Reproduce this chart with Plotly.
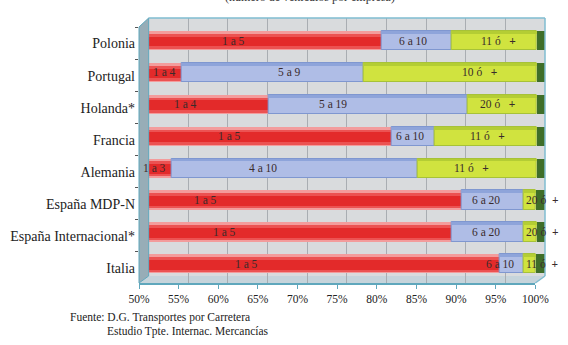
import plotly.graph_objects as go

# Fleet-size distribution of road haulage firms by country (% of firms)
categories = ["Polonia", "Portugal", "Holanda*", "Francia", "Alemania",
              "España MDP-N", "España Internacional*", "Italia"]
small = [79.4, 54.1, 65.1, 80.6, 52.9, 89.5, 88.2, 94.3]
medium = [8.8, 23.0, 25.1, 5.5, 31.0, 7.8, 9.1, 3.0]
large = [10.7, 21.8, 8.7, 12.8, 15.0, 1.5, 1.6, 1.5]
other = [1.1, 1.1, 1.1, 1.1, 1.1, 1.2, 1.1, 1.2]

small_labels = ["1 a 5", "1 a 4", "1 a 4", "1 a 5", "1 a 3", "1 a 5", "1 a 5", "1 a 5"]
medium_labels = ["6 a 10", "5 a 9", "5 a 19", "6 a 10", "4 a 10", "6 a 20", "6 a 20", "6 a 10"]
large_labels = ["11 ó +", "10 ó +", "20 ó +", "11 ó +", "11 ó +", "20 ó +", "20 ó +", "11 ó +"]

# where each segment label sits along the % axis
small_label_x = [60.7, 52.0, 54.6, 60.2, 50.7, 57.2, 59.6, 62.4]
medium_label_x = [83.3, 67.8, 73.3, 83.0, 64.4, 92.6, 92.6, 94.3]
large_label_x = [94.1, 91.7, 94.0, 92.7, 90.7, 97.4, 97.4, 97.4]

x_ticks = [50, 55, 60, 65, 70, 75, 80, 85, 90, 95, 100]
x_tick_text = [f"{v}%" for v in x_ticks]

source_lines = ["Fuente: D.G. Transportes por Carretera",
                "Estudio Tpte. Internac. Mercancías"]

W, H = 568, 345
L, R, T, B = 139, 9, 18, 58
PW, PH = W - L - R, H - T - B


def px(x):
    return (x - L) / PW


def py(y):
    return (H - B - y) / PH


SERIF = "Liberation Serif"
BAR_W = 0.6

base_medium = small
base_large = [a + b for a, b in zip(small, medium)]
base_other = [a + b + c for a, b, c in zip(small, medium, large)]

fig = go.Figure()


def add_bar(x, base, color, width=BAR_W, offset=None, line=None):
    fig.add_trace(go.Bar(
        y=categories, x=x, base=base, orientation="h", width=width,
        offset=offset, marker=dict(color=color, line=line or dict(width=0)),
        hoverinfo="skip", showlegend=False,
    ))


# red band with a shaded, rounded look
add_bar(small, [0] * 8, "#f39c9c")
add_bar(small, [0] * 8, "#ec5252", width=0.47, offset=-0.21)
add_bar(small, [0] * 8, "#e32a2a", width=0.3, offset=-0.12)

# blue band
add_bar(medium, base_medium, "#afbde6", line=dict(color="#7f97d0", width=1))
add_bar(medium, base_medium, "#8ea4da", width=0.09, offset=-BAR_W / 2)

# yellow-green band
add_bar(large, base_large, "#d0e33f", line=dict(color="#a7c238", width=1))
add_bar(large, base_large, "#b4cd34", width=0.09, offset=-BAR_W / 2)

# dark green remainder
add_bar(other, base_other, "#3f6e29")

# invisible trace that carries the front axis and the category labels
fig.add_trace(go.Scatter(
    x=[50] * len(categories), y=categories, xaxis="x2", yaxis="y2",
    mode="markers", marker=dict(opacity=0), hoverinfo="skip", showlegend=False,
))

annotations = []
label_font = dict(family=SERIF, size=11.5, color="#3a2b2b")
for i, cat in enumerate(categories):
    annotations.append(dict(x=small_label_x[i], y=cat, xref="x", yref="y",
                            text=small_labels[i], showarrow=False, font=label_font))
    annotations.append(dict(x=medium_label_x[i], y=cat, xref="x", yref="y",
                            text=medium_labels[i], showarrow=False, font=label_font))
    narrow = large[i] < 3
    gap = "\u00a0\u00a0" if narrow else "\u00a0\u00a0\u00a0"
    txt = large_labels[i].replace(" +", gap + "<b>+</b>")
    annotations.append(dict(x=large_label_x[i], y=cat, xref="x", yref="y",
                            xanchor="left" if narrow else "center",
                            text=txt, showarrow=False, font=label_font))

annotations.append(dict(x=px(66), y=py(317), xref="paper", yref="paper",
                        xanchor="left", yanchor="middle", showarrow=False,
                        text=source_lines[0],
                        font=dict(family=SERIF, size=11.5, color="#222")))
annotations.append(dict(x=px(104), y=py(331), xref="paper", yref="paper",
                        xanchor="left", yanchor="middle", showarrow=False,
                        text=source_lines[1],
                        font=dict(family=SERIF, size=11.5, color="#222")))
annotations.append(dict(x=px(316), y=py(-3), xref="paper", yref="paper",
                        xanchor="center", yanchor="middle", showarrow=False,
                        text="(número de vehículos por empresa)",
                        font=dict(family=SERIF, size=12, color="#333")))

wall_edge = "#7fbcd0"
shapes = [
    # back wall
    dict(type="rect", xref="paper", yref="paper", layer="below",
         x0=px(149), x1=px(559), y0=py(276), y1=py(18),
         fillcolor="#d9dbdd", line=dict(width=0)),
    # floor
    dict(type="path", xref="paper", yref="paper", layer="below",
         path=f"M {px(149)} {py(276)} L {px(559)} {py(276)} L {px(549)} {py(283)} "
              f"L {px(139)} {py(283)} Z",
         fillcolor="#c6d4db", line=dict(width=0)),
    # left side wall
    dict(type="path", xref="paper", yref="paper", layer="above",
         path=f"M {px(139)} {py(27)} L {px(149)} {py(18)} L {px(149)} {py(276)} "
              f"L {px(139)} {py(283)} Z",
         fillcolor="#97adb7", line=dict(color="#5fa7bc", width=1)),
    # back wall outline
    dict(type="line", xref="paper", yref="paper", layer="above",
         x0=px(149), x1=px(559), y0=py(18), y1=py(18),
         line=dict(color=wall_edge, width=1.5)),
    dict(type="line", xref="paper", yref="paper", layer="above",
         x0=px(559), x1=px(559), y0=py(18), y1=py(276),
         line=dict(color=wall_edge, width=1.5)),
    dict(type="line", xref="paper", yref="paper", layer="above",
         x0=px(559), x1=px(549), y0=py(276), y1=py(283),
         line=dict(color=wall_edge, width=1.5)),
]

y_range = [7.60, -0.705]

fig.update_layout(
    width=W, height=H,
    margin=dict(l=L, r=R, t=T, b=B, pad=0),
    paper_bgcolor="white", plot_bgcolor="rgba(0,0,0,0)",
    barmode="overlay", bargap=0,
    showlegend=False,
    xaxis=dict(domain=[px(149), 1], range=[50, 100], tick0=50, dtick=5,
               showgrid=True, gridcolor="#a9adb2", gridwidth=1,
               showticklabels=False, ticks="", zeroline=False, showline=False,
               fixedrange=True),
    xaxis2=dict(domain=[0, px(549)], range=[50, 100], anchor="y",
                tickvals=x_ticks, ticktext=x_tick_text,
                ticks="outside", ticklen=4, tickcolor="#5fa7bc",
                showline=True, linecolor="#5fa7bc", linewidth=1.5,
                showgrid=False, zeroline=False,
                tickfont=dict(family=SERIF, size=11.5, color="#222"),
                fixedrange=True),
    yaxis=dict(domain=[py(283), 1], type="category",
               categoryorder="array", categoryarray=categories,
               range=y_range, showticklabels=False, showgrid=False,
               zeroline=False, showline=False, ticks="", fixedrange=True,
               anchor="x"),
    yaxis2=dict(domain=[0, py(21)], type="category",
                categoryorder="array", categoryarray=categories,
                range=y_range, anchor="x2", showgrid=False, zeroline=False,
                showline=False, ticks="outside", tickson="boundaries",
                ticklen=3, tickcolor="#555", ticklabelstandoff=3,
                tickfont=dict(family=SERIF, size=14, color="#222"),
                fixedrange=True),
    annotations=annotations,
    shapes=shapes,
)

fig.write_html("out.html")
